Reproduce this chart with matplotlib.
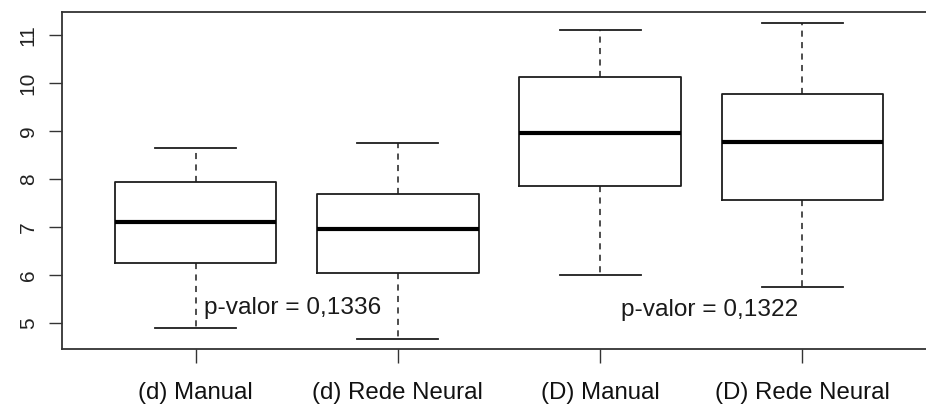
import matplotlib
matplotlib.use("Agg")
import matplotlib.pyplot as plt

categories = ["(d) Manual", "(d) Rede Neural", "(D) Manual", "(D) Rede Neural"]
whislo = [4.90, 4.67, 6.00, 5.75]
q1 = [6.25, 6.04, 7.85, 7.56]
med = [7.10, 6.96, 8.96, 8.77]
q3 = [7.94, 7.69, 10.12, 9.77]
whishi = [8.65, 8.75, 11.10, 11.25]
yticks = [5, 6, 7, 8, 9, 10, 11]
annotations = ["p-valor = 0,1336", "p-valor = 0,1322"]
ann_x = [1.48, 3.54]
ann_y = [5.31, 5.27]

plt.rcParams['font.family'] = ['Liberation Sans', 'DejaVu Sans']

W, H = 926, 405
fig = plt.figure(figsize=(W / 100, H / 100), dpi=100)
ax = fig.add_axes([62 / W, (H - 349) / H, (936 - 62) / W, (349 - 12) / H])

stats = []
for i, c in enumerate(categories):
    stats.append(dict(label=c, whislo=whislo[i], q1=q1[i], med=med[i],
                      q3=q3[i], whishi=whishi[i], fliers=[]))

lc = "#1e1e1e"
ax.bxp(stats, positions=range(1, len(categories) + 1), widths=0.8,
       capwidths=0.4, showfliers=False,
       boxprops=dict(color=lc, linewidth=1.3),
       medianprops=dict(color="#000000", linewidth=3.0, solid_capstyle="butt"),
       whiskerprops=dict(color=lc, linewidth=1.1, linestyle=(0, (4, 3.5))),
       capprops=dict(color=lc, linewidth=1.3))

for t, x, y in zip(annotations, ann_x, ann_y):
    ax.text(x, y, t, ha="center", va="center", fontsize=17.6, color="#1a1a1a")

ax.set_xlim(0.34, 4.66)
ax.set_ylim(4.458, 11.479)
ax.set_yticks(yticks)
ax.set_yticklabels([str(v) for v in yticks], rotation=90, va="center",
                   fontsize=15, color="#222222")
ax.set_xticks(range(1, len(categories) + 1))
ax.set_xticklabels(categories, fontsize=17.3, color="#111111")
ax.tick_params(axis="y", direction="out", length=9.5, width=1, color="#333333", pad=8)
ax.tick_params(axis="x", direction="out", length=10, width=1, color="#333333", pad=14)
for s in ax.spines.values():
    s.set_color("#333333")
    s.set_linewidth(1.3)

fig.savefig("out.png", dpi=100)
